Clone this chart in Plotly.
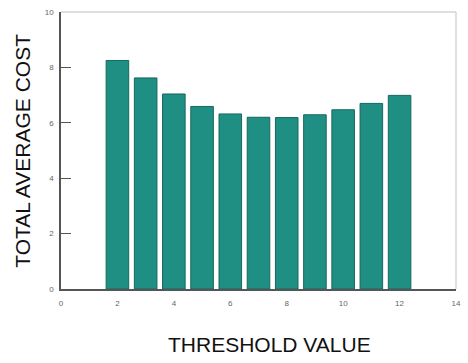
import plotly.graph_objects as go

# Threshold values and corresponding total average cost
thresholds = [2, 3, 4, 5, 6, 7, 8, 9, 10, 11, 12]
avg_cost = [8.25, 7.62, 7.04, 6.59, 6.32, 6.20, 6.19, 6.29, 6.47, 6.70, 6.99]

x_ticks = [0, 2, 4, 6, 8, 10, 12, 14]
y_ticks = [0, 2, 4, 6, 8, 10]

fig = go.Figure()
fig.add_trace(go.Bar(
    x=thresholds,
    y=avg_cost,
    width=0.8,
    marker=dict(color="#1f8f84", line=dict(color="#17665f", width=1)),
))

axis_font = dict(family="Liberation Sans, Arial, sans-serif", size=8, color="#666666")

fig.update_layout(
    width=468,
    height=363,
    margin=dict(l=61, r=7, t=12, b=74),
    paper_bgcolor="white",
    plot_bgcolor="white",
    showlegend=False,
    xaxis=dict(
        range=[0, 14],
        tickvals=x_ticks,
        ticktext=[str(v) for v in x_ticks],
        showgrid=False,
        zeroline=False,
        showline=True,
        linecolor="#555555",
        linewidth=1.5,
        ticks="inside",
        ticklen=9,
        tickcolor="#555555",
        tickfont=axis_font,
        ticklabelstandoff=6,
        layer="below traces",
    ),
    yaxis=dict(
        range=[0, 10],
        tickvals=y_ticks,
        ticktext=[str(v) for v in y_ticks],
        showgrid=False,
        zeroline=False,
        showline=True,
        linecolor="#555555",
        linewidth=1.5,
        ticks="inside",
        ticklen=10,
        tickcolor="#555555",
        tickfont=axis_font,
        ticklabelstandoff=4,
        layer="below traces",
    ),
    shapes=[
        # light frame on top and right
        dict(type="line", xref="paper", yref="paper", x0=0, x1=1, y0=1, y1=1,
             line=dict(color="#d4d4d4", width=1.5), layer="below"),
        dict(type="line", xref="paper", yref="paper", x0=1, x1=1, y0=0, y1=1,
             line=dict(color="#d4d4d4", width=1.5), layer="below"),
    ],
    annotations=[
        dict(text="TOTAL AVERAGE COST", xref="paper", yref="paper",
             x=-0.098, y=0.5, xanchor="center", yanchor="middle", textangle=-90,
             showarrow=False,
             font=dict(family="Liberation Sans, Arial, sans-serif", size=21, color="#111111")),
        dict(text="THRESHOLD VALUE", xref="paper", yref="paper",
             x=0.528, y=-0.2, xanchor="center", yanchor="middle",
             showarrow=False,
             font=dict(family="Liberation Sans, Arial, sans-serif", size=21, color="#111111")),
    ],
)

fig.write_html("out.html")
